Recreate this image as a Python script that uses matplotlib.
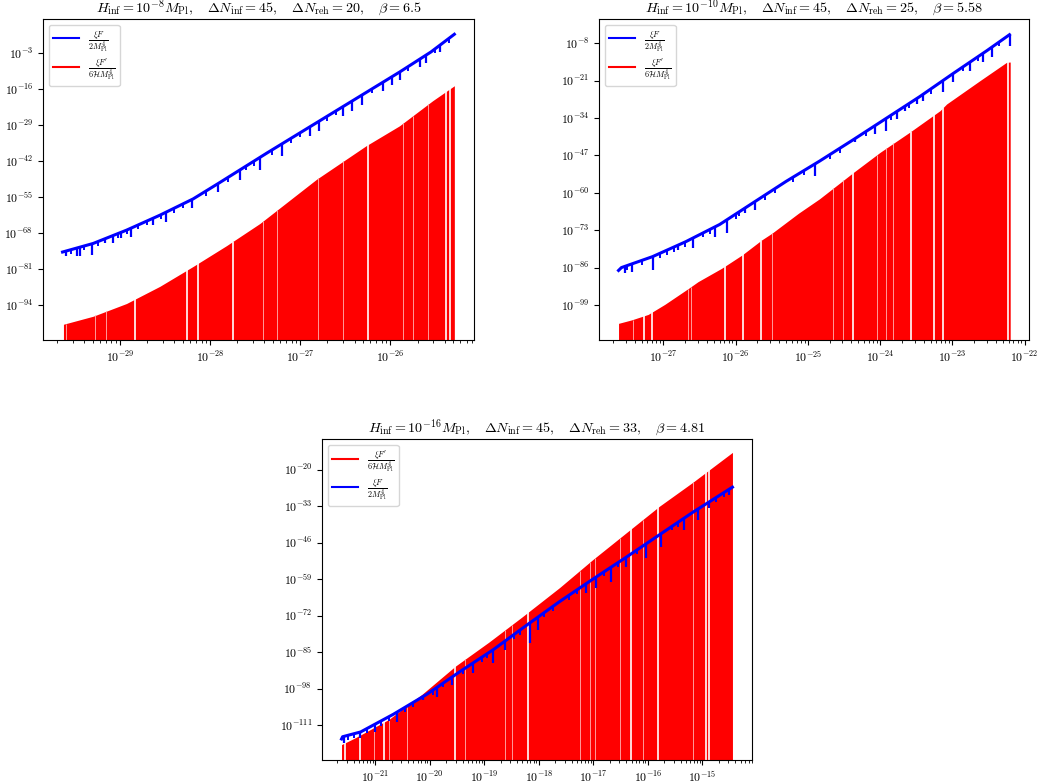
import numpy as np
import matplotlib
matplotlib.use("Agg")
import matplotlib.pyplot as plt

plt.rcParams['font.family'] = 'serif'
plt.rcParams['font.serif'] = ['cmr10', 'DejaVu Serif']
plt.rcParams['mathtext.fontset'] = 'cm'
plt.rcParams['axes.formatter.use_mathtext'] = True

# all values are log10 of k (x) and of the two quantities (y)

# panel 1: H_inf = 1e-8
p1_blue_x = [-29.64, -29.30, -28.93, -28.56, -28.19, -27.91, -27.37, -26.64, -25.90, -25.55, -25.29]
p1_blue_y = [-74.8, -71.7, -66.9, -61.5, -55.6, -50.0, -39.0, -24.5, -9.8, -2.5, 3.9]
p1_dip_x = [-29.602, -29.484, -29.447, -29.318, -29.170, -29.078, -28.986, -28.875, -28.634, -28.486,
            -28.20, -27.914, -27.670, -27.45, -27.20, -26.894, -26.790, -26.524, -26.431, -26.320,
            -26.081, -25.977, -25.896, -25.674, -25.600, -25.452]
p1_dip_y = [-76.3, -76.3, -76.3, -75.9, -71.7, -71.5, -69.9, -69.3, -65.0, -63.9,
            -59.0, -53.0, -48.6, -45.0, -40.0, -33.0, -31.0, -25.5, -24.0, -21.5,
            -16.5, -14.5, -12.5, -8.0, -6.5, -2.5]
# small unresolved spikes along the blue line
p1_fuzz_x = [-29.55, -29.40, -29.25, -29.02, -28.92, -28.80, -28.70, -28.55, -28.40, -28.30, -28.05,
             -27.80, -27.60, -27.52, -27.32, -27.10, -27.00, -26.70, -26.60, -26.20, -25.80, -25.50, -25.35]
p1_red_x = [-29.63, -29.30, -28.93, -28.56, -28.19, -27.82, -27.45, -26.82, -26.27, -25.90, -25.53, -25.29]
p1_red_y = [-100.9, -98.0, -93.4, -87.2, -80.0, -72.5, -64.5, -48.5, -36.4, -29.2, -20.1, -14.7]
p1_gap_x = [-28.841, -28.254, -28.135, -27.751, -26.247, -25.378, -25.334]
p1_faint_x = [-29.602, -29.277, -29.155, -27.411, -27.263, -26.801, -26.524, -25.859, -25.748, -25.582]

# panel 2: H_inf = 1e-10
p2_blue_x = [-27.62, -27.58, -27.15, -26.69, -26.22, -25.76, -25.30, -24.84, -24.37, -23.91, -23.45, -22.99, -22.52, -22.21]
p2_blue_y = [-87.0, -86.0, -82.2, -77.0, -71.0, -63.5, -56.0, -49.0, -41.5, -34.0, -26.5, -18.5, -10.5, -5.0]
p2_dip_x = [-27.531, -27.44, -27.139, -26.792, -26.584, -26.283, -26.122, -25.867, -25.728,
            -24.906, -24.351, -24.074, -23.912, -23.773, -23.657, -23.495, -23.404, -23.135,
            -22.987, -22.756, -22.571, -22.455, -22.20]
p2_dip_y = [-88.0, -87.4, -86.8, -79.9, -79.3, -75.2, -74.1, -67.1, -66.0,
            -54.0, -42.4, -39.5, -38.4, -34.3, -31.4, -29.1, -28.0, -25.0,
            -21.6, -17.5, -14.6, -12.9, -8.8]
p2_fuzz_x = [-27.50, -27.30, -27.05, -26.95, -26.85, -26.70, -26.45, -26.35, -26.00, -25.95, -25.60,
             -25.45, -25.20, -25.05, -24.70, -24.55, -24.20, -23.85, -23.60, -23.30, -22.85, -22.65, -22.35]
p2_red_x = [-27.62, -27.44, -27.21, -26.98, -26.65, -26.52, -26.19, -25.91, -25.64, -25.50, -25.13,
            -24.84, -24.37, -24.00, -23.59, -23.17, -23.08, -22.62, -22.25, -22.20]
p2_red_y = [-105.4, -104.2, -102.3, -98.8, -93.2, -90.9, -86.2, -81.6, -76.4, -74.1, -67.1,
            -62.1, -52.9, -45.9, -38.9, -31.4, -29.1, -21.0, -14.6, -14.5]
p2_gap_x = [-27.273, -27.157, -26.150, -25.900, -25.655, -24.374, -23.578, -23.255, -23.135, -22.225]
p2_faint_x = [-27.425, -26.663, -26.616, -25.498, -24.652, -24.513, -24.050, -23.921, -23.820]

# panel 3: H_inf = 1e-16
p3_blue_x = [-21.62, -21.60, -21.27, -20.67, -20.05, -19.45, -18.84, -18.23, -17.62, -17.01, -16.40, -15.79, -15.18, -14.45]
p3_blue_y = [-116.0, -115.2, -113.5, -107.2, -100.0, -92.0, -84.2, -75.5, -67.0, -59.0, -51.2, -43.2, -35.2, -26.2]
p3_dip_x = [-21.579, -21.274, -21.0, -20.604, -20.117, -19.872, -19.598, -19.203, -18.837, -18.623, -18.166,
            -18.015, -17.130, -16.947, -16.673, -16.399, -16.033, -15.759, -15.333, -15.090, -14.876, -14.510]
p3_dip_y = [-117.5, -115.8, -113.4, -109.8, -102.1, -100.9, -96.7, -92.6, -89.0, -84.2, -81.9,
            -77.1, -64.0, -62.2, -59.9, -54.5, -51.5, -47.4, -41.4, -37.8, -33.7, -28.9]
p3_fuzz_x = [-21.50, -21.40, -21.15, -20.90, -20.75, -20.45, -20.30, -19.95, -19.75, -19.40, -19.05,
             -18.95, -18.45, -18.35, -17.90, -17.75, -17.45, -17.30, -16.80, -16.55, -16.20, -15.55,
             -15.45, -14.75, -14.60]
p3_red_x = [-21.62, -21.36, -20.75, -20.14, -19.53, -18.92, -18.31, -17.62, -17.01, -16.40, -15.79, -15.18, -14.45]
p3_red_y = [-118.0, -115.5, -109.0, -100.0, -90.0, -81.5, -72.5, -62.0, -52.0, -42.5, -33.0, -24.5, -13.8]
p3_gap_x = [-21.548, -21.274, -20.835, -19.537, -18.197, -16.307, -15.808, -14.936, -14.888]
p3_faint_x = [-21.031, -20.756, -20.421, -19.355, -18.623, -18.501, -17.252, -17.069, -16.978, -16.521, -16.095, -15.181]

titles = [r'$H_{\rm inf}=10^{-8}M_{\rm Pl},\quad \Delta N_{\rm inf}=45,\quad \Delta N_{\rm reh}=20,\quad \beta=6.5$',
          r'$H_{\rm inf}=10^{-10}M_{\rm Pl},\quad \Delta N_{\rm inf}=45,\quad \Delta N_{\rm reh}=25,\quad \beta=5.58$',
          r'$H_{\rm inf}=10^{-16}M_{\rm Pl},\quad \Delta N_{\rm inf}=45,\quad \Delta N_{\rm reh}=33,\quad \beta=4.81$']
lab_F = r'$\frac{\xi F}{2M_{\rm Pl}^4}$'
lab_Fp = r'$\frac{\xi F^\prime}{6\mathcal{H}M_{\rm Pl}^4}$'

ylims = [(-106.6, 9.4), (-111.2, 0.45), (-123.5, -9.04)]
ytick_exp = [list(range(-94, 10, 13)), list(range(-99, 1, 13)), list(range(-111, -9, 13))]

fig = plt.figure(figsize=(10.43, 7.84), dpi=100)
boxes = [[0.0412, 0.5663, 0.4132, 0.4094],
         [0.5743, 0.5663, 0.4123, 0.4094],
         [0.3087, 0.0306, 0.4123, 0.4094]]

panels = [
    (p1_blue_x, p1_blue_y, p1_dip_x, p1_dip_y, p1_fuzz_x, p1_red_x, p1_red_y, p1_gap_x, p1_faint_x),
    (p2_blue_x, p2_blue_y, p2_dip_x, p2_dip_y, p2_fuzz_x, p2_red_x, p2_red_y, p2_gap_x, p2_faint_x),
    (p3_blue_x, p3_blue_y, p3_dip_x, p3_dip_y, p3_fuzz_x, p3_red_x, p3_red_y, p3_gap_x, p3_faint_x),
]

fuzz = 1.6  # depth of the small spikes, decades

for i, (bx, by, dx, dy, zx, rx, ry, gx, fx) in enumerate(panels):
    ax = fig.add_axes(boxes[i])
    bx = np.array(bx); by = np.array(by)
    rx = np.array(rx); ry = np.array(ry)
    ybot = 10.0**(ylims[i][0] - 5)

    red_z = 2 if i < 2 else 1
    # red: dense oscillation fills down to the bottom
    ax.fill_between(10**rx, ybot, 10**ry, color='red', lw=0, zorder=red_z)
    ax.vlines(10**np.array(gx), ybot, 10**np.interp(gx, rx, ry), color='white', lw=1.2, zorder=red_z)
    ax.vlines(10**np.array(fx), ybot, 10**np.interp(fx, rx, ry), color='#ff9a9a', lw=0.7, zorder=red_z)
    lr, = ax.plot([], [], color='red', lw=1.5, label=lab_Fp)

    # blue line and its downward spikes
    lb, = ax.plot(10**bx, 10**by, color='blue', lw=2.2, zorder=3, label=lab_F)
    ax.vlines(10**np.array(dx), 10**np.array(dy), 10**np.interp(dx, bx, by), color='blue', lw=1.6, zorder=3)
    ztop = np.interp(zx, bx, by)
    ax.vlines(10**np.array(zx), 10**(ztop - fuzz), 10**ztop, color='blue', lw=1.4, zorder=3)

    ax.set_xscale('log')
    ax.set_yscale('log')
    ax.set_xlim(10**(bx[0] - 0.05*(bx[-1]-bx[0])), 10**(bx[-1] + 0.05*(bx[-1]-bx[0])))
    ax.set_ylim(10**ylims[i][0], 10**ylims[i][1])
    ax.set_yticks([10.0**k for k in ytick_exp[i]])
    ax.yaxis.set_minor_locator(matplotlib.ticker.NullLocator())
    ax.tick_params(labelsize=8.5)
    ax.set_title(titles[i], fontsize=10.2, pad=1)
    handles = [lb, lr] if i < 2 else [lr, lb]
    leg = ax.legend(handles=handles, loc='upper left', fontsize=8.5, handlelength=2.2,
                    labelspacing=0.25, borderpad=0.35)
    for h in leg.get_lines():
        h.set_linewidth(1.5)

fig.savefig('out.png', dpi=100)
